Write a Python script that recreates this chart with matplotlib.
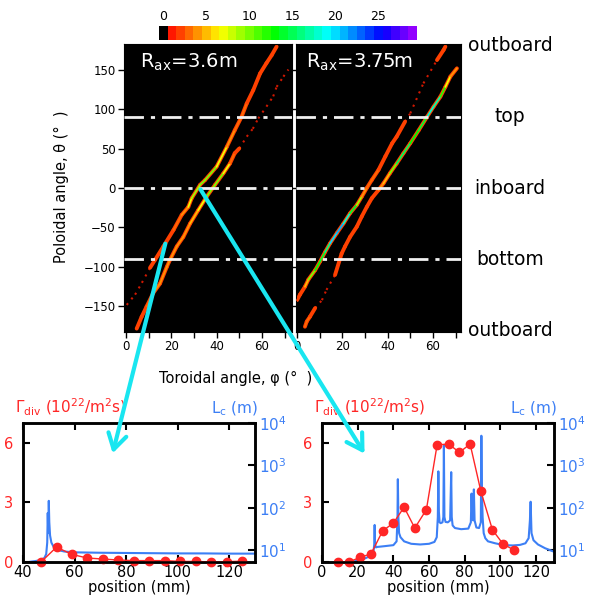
import numpy as np
import matplotlib.pyplot as plt
from matplotlib.colors import ListedColormap, BoundaryNorm, hsv_to_rgb
from matplotlib.collections import LineCollection
from matplotlib.patches import FancyArrowPatch

plt.rcParams['mathtext.default'] = 'regular'

# ---- field line footprints: toroidal angle, poloidal angle, hit count ----
# Rax = 3.6 m
l1_phi = [0.3, 4.0, 7.0, 10.6, 12.8, 16.5, 21.0, 24.6, 27.5, 29.0, 32.7, 34.9, 40.0, 44.5,
          48.0, 51.0, 53.3, 56.2, 59.2, 62.0, 64.3, 66.5]
l1_theta = [-148, -135, -120, -101, -91, -74, -53, -34, -24, -13, 4, 10, 27, 52,
            73, 90, 107, 124, 145, 158, 168, 179]
l1_val = [1, 1, 1, 1, 2, 2, 3, 3, 6, 8, 10, 10, 9, 5, 3, 3, 3, 2, 2, 2, 2, 3]

l2_phi = [4.7, 6.9, 9.1, 12.0, 15.0, 18.0, 19.4, 22.4, 25.3, 28.3, 31.9, 35.6, 39.3, 43.0,
          45.9, 48.0, 50.0, 53.3, 56.0, 58.4, 62.0, 65.0, 66.5, 69.5, 71.7]
l2_theta = [-178, -163, -150, -133, -121, -100, -91, -74, -62, -45, -28, -11, 4, 18.6,
            31, 44, 50, 65, 75, 88, 103, 116, 128, 141, 150]
l2_val = [2, 2, 3, 3, 4, 4, 4, 4, 4, 4, 6, 8, 11, 10, 4, 2, 1, 1, 1, 1, 1, 1, 1, 1, 1]

# Rax = 3.75 m
r1_phi = [0.0, 1.3, 3.5, 5.0, 8.0, 10.2, 12.4, 14.6, 17.6, 20.5, 23.4, 26.4, 28.6, 30.8,
          33.0, 36.0, 39.0, 42.0, 44.0, 47.7, 50.0, 55.8, 61.8, 64.7, 65.5]
r1_theta = [-142, -135, -125, -116, -104, -93, -81, -70, -57, -45, -32, -21.5, -11, 0,
            10, 23, 40, 56.6, 65, 84, 94.5, 132.5, 162, 174.7, 179]
r1_val = [2, 2, 3, 7, 12, 14, 15, 18, 22, 20, 15, 12, 6, 3, 3, 3, 2, 2, 2, 1, 1, 1, 1, 2, 3]

r2_phi = [3.5, 4.3, 5.7, 8.0, 11.0, 13.0, 16.8, 19.7, 21.2, 23.4, 26.4, 28.6, 30.8, 33.0,
          36.0, 38.2, 41.0, 44.0, 47.0, 50.0, 53.7, 57.4, 60.3, 63.3, 65.5, 67.7, 70.6]
r2_theta = [-175.6, -169, -163, -152, -142, -129, -110, -83, -74, -62, -49, -36, -24, -13,
            -2.5, 6, 18.6, 31, 44, 56.6, 73, 90, 103, 115.6, 128, 141, 151.5]
r2_val = [3, 3, 3, 1, 1, 1, 1, 2, 2, 2, 2, 2, 2, 2, 3, 4, 6, 14, 16, 14, 12, 16, 20, 14,
          10, 4, 3]

region_theta = [180, 90, 0, -90, -180]
region_names = ['outboard', 'top', 'inboard', 'bottom', 'outboard']
cbar_ticks = [0, 5, 10, 15, 20, 25]

# ---- divertor flux and connection length ----
gam_pos_a = [47, 53, 59, 65, 71, 77, 83, 89, 95, 101, 107, 113, 119, 125]
gam_a = [0.0, 0.75, 0.38, 0.2, 0.15, 0.1, 0.07, 0.07, 0.07, 0.03, 0.03, 0.0, 0.02, 0.04]
lc_pos_a = [43, 45, 47, 48.3, 49.0, 49.4, 49.6, 49.8, 50.0, 50.2, 50.5, 51, 52, 53.5, 56,
            60, 70, 80, 90, 100, 110, 120, 130]
lc_a = [5.3, 5.5, 5.8, 6.5, 8, 15, 75, 25, 145, 45, 22, 15, 11.5, 10, 9.2, 8.8, 8.6, 8.5,
        8.4, 8.3, 8.3, 8.2, 8.2]

gam_pos_b = [9, 15, 21.5, 27.5, 34, 40, 46, 52, 58.5, 64.5, 71, 77, 83, 89, 95.5, 101.5, 107.5]
gam_b = [0.0, 0.0, 0.24, 0.41, 1.57, 1.96, 2.76, 1.71, 2.64, 5.9, 5.94, 5.52, 5.94, 3.57,
         1.62, 0.9, 0.61]
lc_pos_b = [16, 20, 24, 27, 28.8, 29.3, 29.5, 29.7, 30.2, 31, 35, 40, 41.8, 42.3, 42.5, 42.8,
            43.2, 44, 46, 50, 55, 60, 63, 64.3, 64.9, 65.2, 65.5, 65.9, 66.5, 67.5, 68.0,
            68.3, 68.6, 69.2, 70.5, 71.8, 72.4, 72.7, 73.2, 74.5, 78, 82, 83.4, 83.8, 84.2,
            84.7, 85.1, 85.5, 86.5, 88, 89.0, 89.3, 89.6, 90.0, 90.6, 91.5, 93, 97, 102, 107,
            111, 114, 115.8, 116.5, 116.9, 117.4, 118.5, 121, 125, 130]
lc_b = [5.2, 5.6, 6.3, 7.2, 8.5, 14, 39, 14, 11.5, 11.8, 12.3, 13, 16, 60, 470, 60,
        25, 20, 16, 14, 13.5, 14, 15.5, 20, 60, 720, 80, 45, 43, 45, 60,
        2900, 60, 46, 45, 50, 690, 60, 38, 33, 31, 32, 45, 215, 55,
        50, 270, 50, 34, 33, 45, 5000, 250, 60, 25, 19, 16, 14.4, 13, 12.8,
        13.2, 14.4, 19, 50, 138, 25, 17, 13.5, 11, 9.1]

# 30-level rainbow scale, black for zero
levels = np.arange(30)
hues = np.clip(9.6 * levels - 4, 0, 360) / 360.0
rgb = hsv_to_rgb(np.column_stack([hues, np.ones(30), np.ones(30)]))
rgb[0] = 0
cmap = ListedColormap(rgb)
norm = BoundaryNorm(np.arange(-0.5, 30.5, 1), 30)

RED = '#ff2626'
BLUE = '#3c7ff5'
CYAN = '#19e6f0'

W, H = 590, 597


def fx(px):
    return px / W


def fy(py):
    return 1 - py / H


def draw_strand(ax, phi, theta, val):
    pts = np.column_stack([phi, theta]).reshape(-1, 1, 2)
    segs = np.concatenate([pts[:-1], pts[1:]], axis=1)
    val = np.asarray(val, float)
    sv = np.round((val[:-1] + val[1:]) / 2)
    dim = sv <= 1
    if dim.any():
        ax.add_collection(LineCollection(segs[dim], colors='#d01800', linewidths=1.5,
                                         linestyles=(0, (1, 2.5)), zorder=2))
    br = ~dim
    if br.any():
        outer = cmap(norm(np.minimum(sv[br], 2)))
        inner = cmap(norm(sv[br]))
        ax.add_collection(LineCollection(segs[br], colors=outer, linewidths=2.8,
                                         capstyle='round', zorder=2))
        ax.add_collection(LineCollection(segs[br], colors=inner, linewidths=1.3,
                                         capstyle='round', zorder=3))


fig = plt.figure(figsize=(W / 100, H / 100), dpi=100)

axL = fig.add_axes([fx(124), fy(332), 168 / W, 288 / H])
axR = fig.add_axes([fx(296), fy(332), 165 / W, 288 / H])
for ax, strands, rax, xl in [
        (axL, [(l1_phi, l1_theta, l1_val), (l2_phi, l2_theta, l2_val)], '3.6m', (-0.9, 73.3)),
        (axR, [(r1_phi, r1_theta, r1_val), (r2_phi, r2_theta, r2_val)], '3.75m', (-0.45, 72.4))]:
    ax.set_facecolor('black')
    for s in strands:
        draw_strand(ax, *s)
    for th in [90, 0, -90]:
        ax.axhline(th, color='#f0f0f0', lw=2, dashes=(7, 2.5, 1.5, 2.5), zorder=4)
    ax.set_xlim(*xl)
    ax.set_ylim(-182.3, 182.3)
    ax.set_xticks([0, 20, 40, 60])
    ax.set_xticks([10, 30, 50, 70], minor=True)
    ax.set_yticks([-150, -100, -50, 0, 50, 100, 150])
    ax.tick_params(which='both', direction='out', length=4, width=1, labelsize=8.5, pad=2)
    ax.text(0.095 if ax is axL else 0.06, 0.975, r'R$_{ax}$=' + rax, transform=ax.transAxes,
            color='white', fontsize=14, va='top', ha='left')
axR.tick_params(axis='y', labelleft=False, length=3)

fig.text(fx(61), fy(187), 'Poloidal angle, θ (°  )', rotation=90, ha='center', va='center',
         fontsize=10.5)
fig.text(fx(236), fy(378), 'Toroidal angle, φ (°  )', ha='center', va='center', fontsize=10.5)

for th, name in zip(region_theta, region_names):
    py = 188 - th * 0.79
    fig.text(fx(510), fy(py), name, ha='center', va='center', fontsize=13.5)

# colour scale
axC = fig.add_axes([fx(159), fy(40), 258 / W, 14 / H])
axC.imshow(levels[None, :], cmap=cmap, norm=norm, aspect='auto',
           extent=(-0.5, 29.5, 0, 1))
axC.set_xticks(cbar_ticks)
axC.xaxis.tick_top()
axC.tick_params(axis='x', length=0, labelsize=9, pad=2)
axC.set_yticks([])
for sp in axC.spines.values():
    sp.set_visible(False)

# bottom panels
for left, xlim, xticks, gp, gv, lp, lv in [
        (23, (40, 130), [40, 60, 80, 100, 120], gam_pos_a, gam_a, lc_pos_a, lc_a),
        (322, (0, 130), [0, 20, 40, 60, 80, 100, 120], gam_pos_b, gam_b, lc_pos_b, lc_b)]:
    ax = fig.add_axes([fx(left), fy(562), 232 / W, 139 / H])
    tw = ax.twinx()
    tw.set_yscale('log')
    tw.plot(lp, lv, color=BLUE, lw=1.5)
    tw.set_ylim(5.2, 1e4)
    tw.set_yticks([10, 100, 1000, 10000])
    tw.set_yticklabels([r'10$^{%d}$' % k for k in range(1, 5)])
    tw.yaxis.set_minor_locator(plt.NullLocator())
    tw.tick_params(axis='y', direction='in', length=5, width=1.5, colors='black',
                   labelcolor=BLUE, labelsize=11, pad=3)

    ax.set_zorder(tw.get_zorder() + 1)
    ax.patch.set_visible(False)
    ax.plot(gp, gv, color=RED, lw=1, marker='o', ms=6, mec=RED, mfc=RED, clip_on=False)
    ax.set_xlim(*xlim)
    ax.set_ylim(0, 7)
    ax.set_xticks(xticks)
    ax.set_yticks([0, 3, 6])
    ax.tick_params(axis='x', direction='in', top=True, length=5, width=1.5, labelsize=10.5,
                   pad=2)
    ax.tick_params(axis='y', direction='in', length=5, width=1.5, labelcolor=RED,
                   labelsize=10.5, pad=7)
    ax.set_xlabel('position (mm)', fontsize=10.5, labelpad=0)
    for a in (ax, tw):
        for sp in a.spines.values():
            sp.set_linewidth(1.8)

    fig.text(fx(left - 8), fy(413), r'$\Gamma_{div}$ (10$^{22}$/m$^{2}$s)', color=RED,
             fontsize=11, va='baseline', ha='left')
    fig.text(fx(left + 235), fy(413), r'L$_{c}$ (m)', color=BLUE, fontsize=11,
             va='baseline', ha='right')

# arrows from the strike points to the profiles
for (x0, y0), (x1, y1) in [((166, 241), (112, 456)), ((199, 187), (366, 456))]:
    fig.add_artist(FancyArrowPatch((fx(x0), fy(y0)), (fx(x1), fy(y1)),
                                   transform=fig.transFigure,
                                   arrowstyle='->,head_length=0.5,head_width=0.3',
                                   mutation_scale=22, lw=3, color=CYAN, zorder=10))

fig.savefig('out.png', dpi=100)
